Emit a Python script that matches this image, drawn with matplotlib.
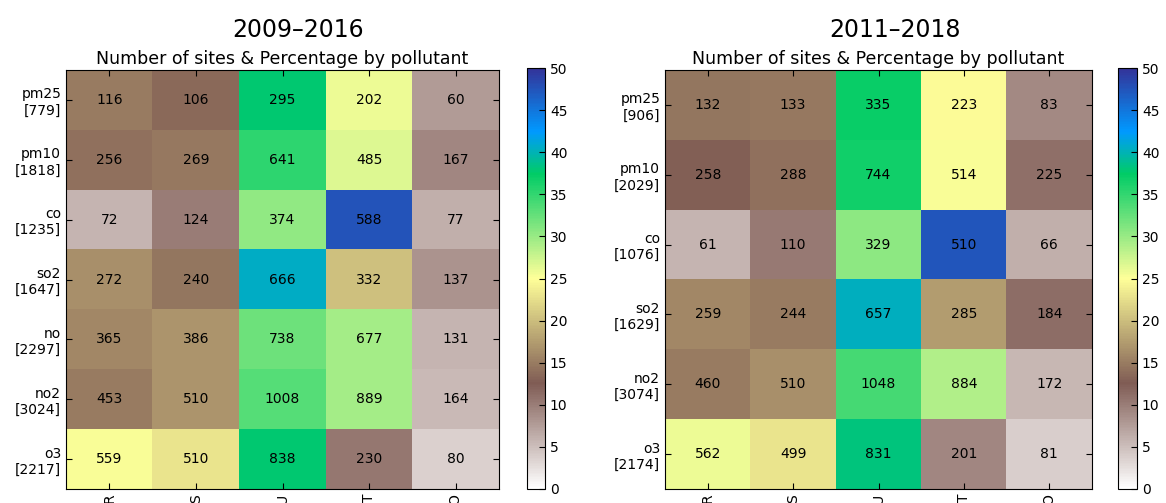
import numpy as np
import matplotlib
matplotlib.use('Agg')
import matplotlib.pyplot as plt

# site types (x) and pollutants (y)
site_types = ['R', 'S', 'U', 'T', 'O']

pollutants_a = ['pm25', 'pm10', 'co', 'so2', 'no', 'no2', 'o3']
counts_a = [
    [116, 106, 295, 202, 60],
    [256, 269, 641, 485, 167],
    [72, 124, 374, 588, 77],
    [272, 240, 666, 332, 137],
    [365, 386, 738, 677, 131],
    [453, 510, 1008, 889, 164],
    [559, 510, 838, 230, 80],
]

pollutants_b = ['pm25', 'pm10', 'co', 'so2', 'no2', 'o3']
counts_b = [
    [132, 133, 335, 223, 83],
    [258, 288, 744, 514, 225],
    [61, 110, 329, 510, 66],
    [259, 244, 657, 285, 184],
    [460, 510, 1048, 884, 172],
    [562, 499, 831, 201, 81],
]

W, H = 1166, 503
fig = plt.figure(figsize=(W / 100, H / 100), dpi=100)


def px(x0, y0, x1, y1):
    return [x0 / W, 1 - y1 / H, (x1 - x0) / W, (y1 - y0) / H]


def heatmap(ax, cax, counts, pollutants, period):
    counts = np.asarray(counts)
    totals = counts.sum(axis=1)
    pct = counts / totals[:, None] * 100
    im = ax.imshow(pct, cmap='terrain_r', vmin=0, vmax=50, aspect='auto',
                   interpolation='nearest')
    for i in range(counts.shape[0]):
        for j in range(counts.shape[1]):
            ax.text(j, i, str(counts[i, j]), ha='center', va='center', fontsize=10)
    ax.set_xticks(range(len(site_types)))
    ax.set_xticklabels(site_types, rotation=90)
    ax.set_yticks(range(len(pollutants)))
    ax.set_yticklabels([f'{p}\n[{t}]' for p, t in zip(pollutants, totals)],
                       ha='right', fontsize=10)
    ax.tick_params(direction='in', top=True, right=True, length=4, labelsize=10)
    ax.set_title('Number of sites & Percentage by pollutant', fontsize=12.5, pad=4.5)
    cb = fig.colorbar(im, cax=cax)
    cb.set_ticks(range(0, 51, 5))
    cb.ax.tick_params(direction='in', length=4, labelsize=10)
    # big period title sits a bit right of the heatmap centre
    bb = ax.get_position()
    fig.text(bb.x0 + bb.width / 2 + 16 / W, 1 - 37 / H, period,
             ha='center', va='baseline', fontsize=17)


ax1 = fig.add_axes(px(66, 70, 499, 489))
cax1 = fig.add_axes(px(527, 68, 545, 489))
heatmap(ax1, cax1, counts_a, pollutants_a, '2009–2016')

ax2 = fig.add_axes(px(665, 70, 1092, 489))
cax2 = fig.add_axes(px(1118, 68, 1137, 489))
heatmap(ax2, cax2, counts_b, pollutants_b, '2011–2018')

fig.savefig('out.png', dpi=100)
